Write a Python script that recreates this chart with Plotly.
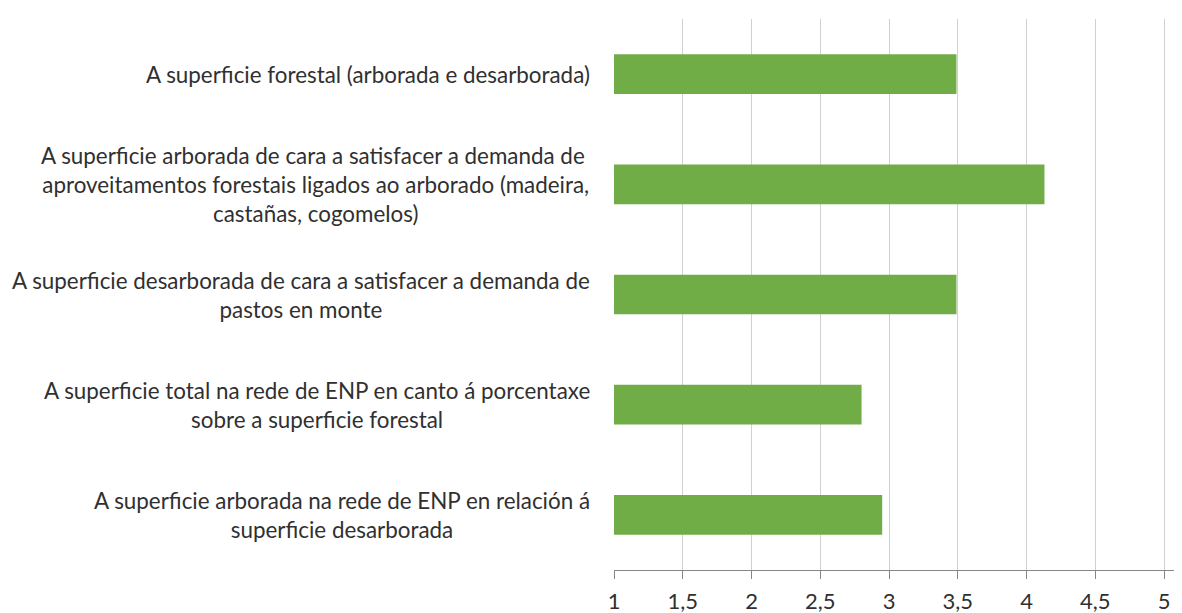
import plotly.graph_objects as go

categories = [
    "A superficie forestal (arborada e desarborada)",
    "A superficie arborada de cara a satisfacer a demanda de <br>aproveitamentos forestais ligados ao arborado (madeira,<br>castañas, cogomelos)",
    "A superficie desarborada de cara a satisfacer a demanda de<br>pastos en monte",
    "A superficie total na rede de ENP en canto á porcentaxe<br>sobre a superficie forestal",
    "A superficie arborada na rede de ENP en relación á<br>superficie desarborada",
]
values = [3.49, 4.13, 3.49, 2.80, 2.95]
tick_vals = [1, 1.5, 2, 2.5, 3, 3.5, 4, 4.5, 5]
tick_text = ["1", "1,5", "2", "2,5", "3", "3,5", "4", "4,5", "5"]

FONT = "Lato"
ids = [f"c{i}" for i in range(len(categories))]

fig = go.Figure()
fig.add_trace(go.Bar(
    y=ids, x=[v - 1 for v in values], base=1, orientation="h",
    marker=dict(color="#70AD47", line=dict(width=0)),
    width=0.36,
    hoverinfo="skip",
))

for cid, label in zip(ids, categories):
    fig.add_annotation(
        xref="paper", yref="y", x=0, y=cid, text=label,
        xanchor="right", yanchor="middle", align="center",
        xshift=-22, showarrow=False,
        font=dict(family=FONT, size=22.4, color="#303030"),
    )

fig.update_layout(
    width=1174, height=605,
    margin=dict(l=606, r=0, t=11, b=43),
    paper_bgcolor="white", plot_bgcolor="white",
    showlegend=False,
    xaxis=dict(
        range=[1, 5.13], tickvals=tick_vals, ticktext=tick_text,
        showgrid=True, gridcolor="#D0D0D0", gridwidth=1,
        showline=True, linecolor="#868686", linewidth=1,
        ticks="outside", ticklen=8, tickcolor="#868686",
        ticklabelstandoff=4,
        tickfont=dict(family=FONT, size=22, color="#303030"),
        zeroline=False, fixedrange=True,
    ),
    yaxis=dict(
        categoryorder="array", categoryarray=ids[::-1],
        showticklabels=False, showgrid=False, showline=False,
        zeroline=False, ticks="", fixedrange=True,
    ),
)

fig.write_html("out.html")
